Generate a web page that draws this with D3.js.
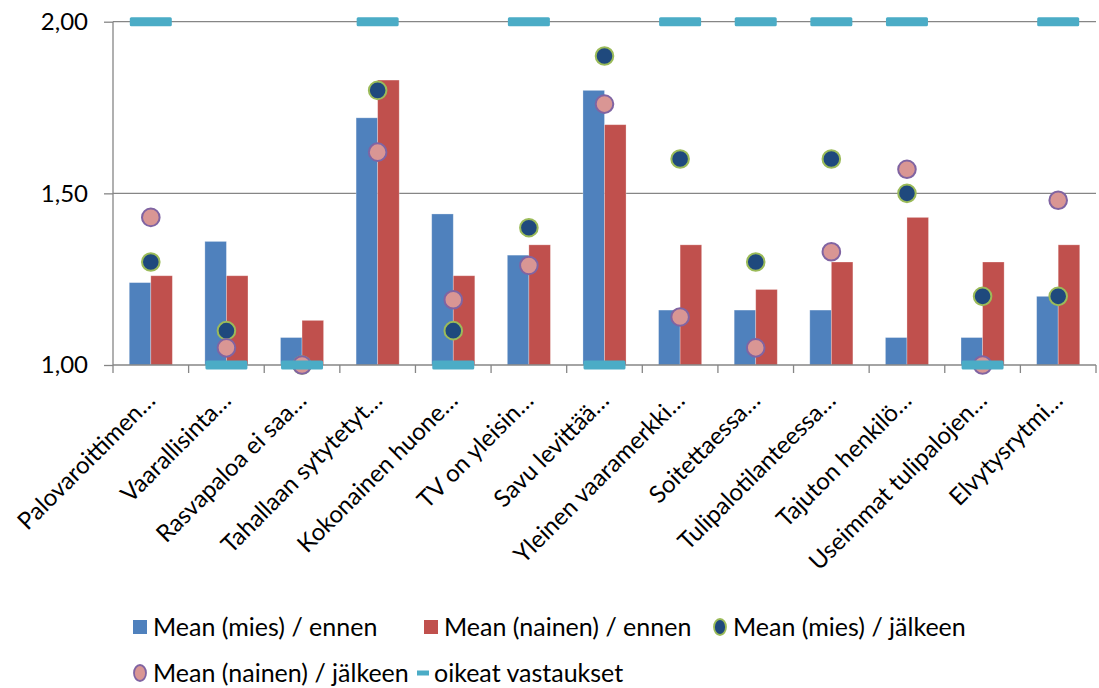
<!DOCTYPE html>
<html>
<head>
<meta charset="utf-8">
<script src="https://cdn.jsdelivr.net/npm/d3@7/dist/d3.min.js"></script>
<style>
  body {margin:0; background:#fff;}
  text {font-family:Lato, 'Open Sans', sans-serif; fill:#000;}
</style>
</head>
<body>
<svg id="chart" width="1099" height="688"></svg>
<script>
  // data
  var categories=['Palovaroittimen…','Vaarallisinta…','Rasvapaloa ei saa…','Tahallaan sytytetyt…',
                  'Kokonainen huone…','TV on yleisin…','Savu levittää…','Yleinen vaaramerkki…',
                  'Soitettaessa…','Tulipalotilanteessa…','Tajuton henkilö…','Useimmat tulipalojen…',
                  'Elvytysrytmi…'];
  var miesEnnen  =[1.24,1.36,1.08,1.72,1.44,1.32,1.80,1.16,1.16,1.16,1.08,1.08,1.20];
  var nainenEnnen=[1.26,1.26,1.13,1.83,1.26,1.35,1.70,1.35,1.22,1.30,1.43,1.30,1.35];
  var miesJalkeen=[1.30,1.10,1.00,1.80,1.10,1.40,1.90,1.60,1.30,1.60,1.50,1.20,1.20];
  var nainenJalkeen=[1.43,1.05,1.00,1.62,1.19,1.29,1.76,1.14,1.05,1.33,1.57,1.00,1.48];
  var oikeat=[2,1,1,2,1,2,1,2,2,2,2,1,2];
  var yTicks=[1,1.5,2];
  var seriesNames=['Mean (mies) / ennen','Mean (nainen) / ennen','Mean (mies) / jälkeen',
                   'Mean (nainen) / jälkeen','oikeat vastaukset'];

  var col={blue:'#4f81bd',red:'#c0504d',dark:'#1f497d',darkLine:'#9bbb59',
           pink:'#d99694',pinkLine:'#8064a2',dash:'#4bacc6',grid:'#868686'};

  var svg=d3.select('#chart');
  var m={left:113, right:1096, top:21.7, bottom:365};

  var x=d3.scaleBand().domain(categories).range([m.left,m.right])
          .paddingInner(0.43).paddingOuter(0.215);
  var step=x.step();
  var xs=d3.scaleBand().domain(['m','n']).range([0,x.bandwidth()]);
  var y=d3.scaleLinear().domain([1,2]).range([m.bottom,m.top]);
  var cx=function(i) {return x(categories[i])+x.bandwidth()/2;};

  // gridlines
  svg.append('g').selectAll('line').data(yTicks.slice(1)).join('line')
     .attr('x1',m.left).attr('x2',m.right).attr('y1',d=>y(d)).attr('y2',d=>y(d))
     .attr('stroke',col.grid).attr('stroke-width',1.3);

  // bars
  var bars=svg.append('g');
  [[miesEnnen,'m',col.blue],[nainenEnnen,'n',col.red]].forEach(function(s) {
    bars.append('g').selectAll('rect').data(s[0]).join('rect')
        .attr('x',(d,i)=>x(categories[i])+xs(s[1]))
        .attr('width',xs.bandwidth())
        .attr('y',d=>y(d)).attr('height',d=>y(1)-y(d))
        .attr('fill',s[2]).attr('stroke','#fff').attr('stroke-opacity',0.35).attr('stroke-width',0.8);
  });

  // axes
  var yAxis=svg.append('g').attr('transform',`translate(${m.left},0)`)
     .call(d3.axisLeft(y).tickValues(yTicks).tickSize(9).tickPadding(16)
            .tickFormat(d=>d3.format('.2f')(d).replace('.',',')));
  yAxis.select('.domain').attr('stroke',col.grid).attr('stroke-width',1.3).attr('d',`M0,${m.bottom}V${m.top}`);
  yAxis.selectAll('.tick line').attr('stroke',col.grid).attr('stroke-width',1.3);
  yAxis.selectAll('.tick text').attr('font-size',24).attr('fill','#000')
       .attr('font-family','Lato, sans-serif');

  var xb=svg.append('g');
  xb.append('line').attr('x1',m.left).attr('x2',m.right).attr('y1',m.bottom).attr('y2',m.bottom)
    .attr('stroke',col.grid).attr('stroke-width',1.3);
  xb.selectAll('line.t').data(d3.range(categories.length+1)).join('line').attr('class','t')
    .attr('x1',d=>m.left+d*step).attr('x2',d=>m.left+d*step)
    .attr('y1',m.bottom).attr('y2',m.bottom+8)
    .attr('stroke',col.grid).attr('stroke-width',1.3);
  xb.selectAll('text').data(categories).join('text')
    .attr('text-anchor','end').attr('font-size',24)
    .attr('transform',(d,i)=>`translate(${cx(i)+6},${m.bottom+37}) rotate(-45)`)
    .text(d=>d);

  // markers
  svg.append('g').selectAll('circle').data(miesJalkeen).join('circle')
     .attr('cx',(d,i)=>cx(i)).attr('cy',d=>y(d)).attr('r',8.8)
     .attr('fill',col.dark).attr('stroke',col.darkLine).attr('stroke-width',2);
  svg.append('g').selectAll('circle').data(nainenJalkeen).join('circle')
     .attr('cx',(d,i)=>cx(i)).attr('cy',d=>y(d)).attr('r',8.8)
     .attr('fill',col.pink).attr('stroke',col.pinkLine).attr('stroke-width',2);
  svg.append('g').selectAll('rect').data(oikeat).join('rect')
     .attr('x',(d,i)=>cx(i)-21).attr('width',42)
     .attr('y',d=>y(d)-4.5).attr('height',9).attr('rx',1.5)
     .attr('fill',col.dash);

  // legend
  var lg=svg.append('g').attr('font-size',25);
  var items=[{k:'rect',c:col.blue,x:133,y:627},{k:'rect',c:col.red,x:424,y:627},
             {k:'dot',c:col.dark,s:col.darkLine,x:713,y:627},
             {k:'dot',c:col.pink,s:col.pinkLine,x:133,y:673},{k:'dash',c:col.dash,x:417,y:673}];
  items.forEach(function(it,i) {
    if (it.k=='rect') lg.append('rect').attr('x',it.x).attr('y',it.y-7).attr('width',14).attr('height',14).attr('fill',it.c);
    if (it.k=='dot') lg.append('ellipse').attr('cx',it.x+7).attr('cy',it.y).attr('rx',6).attr('ry',8)
                       .attr('fill',it.c).attr('stroke',it.s).attr('stroke-width',1.8);
    if (it.k=='dash') lg.append('rect').attr('x',it.x).attr('y',it.y-2.5).attr('width',12).attr('height',5).attr('fill',it.c);
    lg.append('text').attr('x',it.x+(it.k=='dash'?17:20)).attr('y',it.y).attr('dy','0.35em').text(seriesNames[i]);
  });
</script>
</body>
</html>
